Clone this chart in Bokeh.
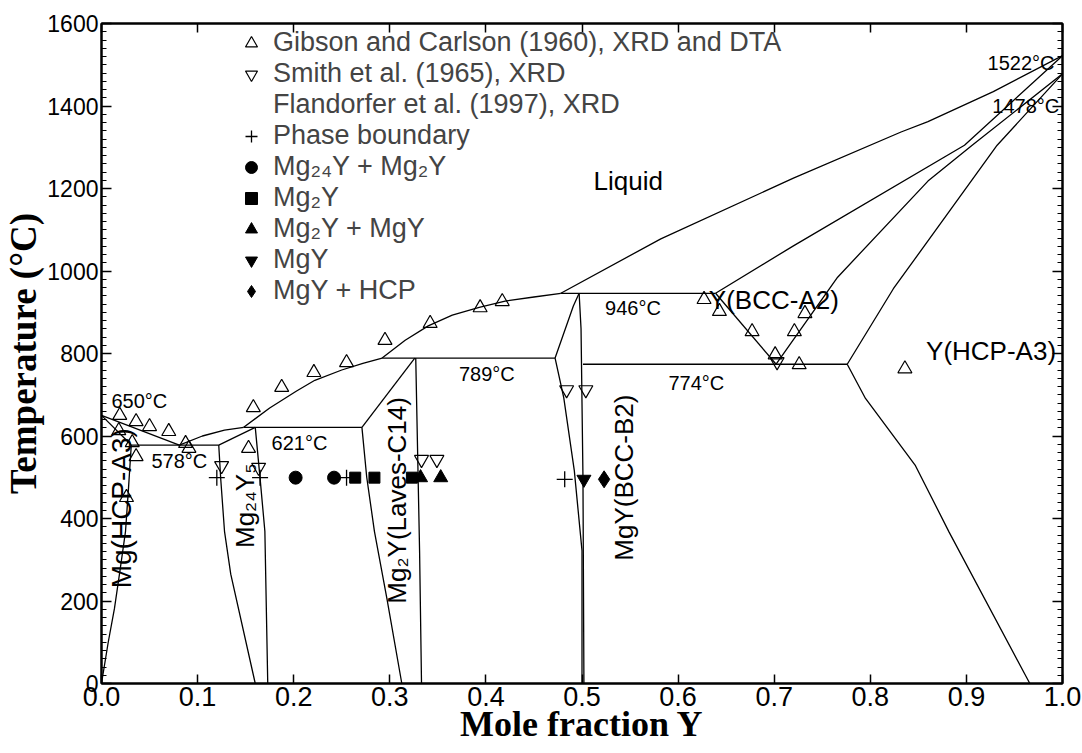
import numpy as np
from bokeh.plotting import figure
from bokeh.models import (FixedTicker, NumeralTickFormatter, LinearAxis, Range1d,
                          Label, Legend, LegendItem, CustomJSTickFormatter)
from bokeh.embed import file_html
from bokeh.resources import INLINE

# ---------------- phase boundaries (mole fraction Y, temperature degC) ----------------
liq_mg_x = [0.0, 0.081]
liq_mg_t = [650, 578]
sol_mg_x = [0.0, 0.031]
sol_mg_t = [650, 578]
solv_mg_x = [0.031, 0.028, 0.025, 0.019, 0.0135, 0.007, 0.0]
solv_mg_t = [578, 470, 369, 270, 182, 100, 0]
iso578_x = [0.031, 0.122]
iso578_t = [578, 578]
liq2_x = [0.081, 0.105, 0.128, 0.148]
liq2_t = [578, 600, 614, 621]
m24top_x = [0.122, 0.160]
m24top_t = [578, 621]
iso621_x = [0.148, 0.271]
iso621_t = [621, 621]
m24left_x = [0.122, 0.124, 0.128, 0.1345, 0.160]
m24left_t = [578, 498, 369, 265, 0]
m24right_x = [0.160, 0.165, 0.170, 0.173]
m24right_t = [621, 498, 369, 0]
liq3_x = [0.148, 0.175, 0.203, 0.222, 0.250, 0.272, 0.292]
liq3_t = [621, 668, 709, 735, 760, 776, 789]
m2up_x = [0.271, 0.326]
m2up_t = [621, 789]
m2low_x = [0.271, 0.276, 0.284, 0.297, 0.3125]
m2low_t = [621, 500, 369, 206, 0]
m2right_x = [0.327, 0.331, 0.333]
m2right_t = [789, 320, 0]
iso789_x = [0.292, 0.472]
iso789_t = [789, 789]
liq4_x = [0.292, 0.316, 0.340, 0.365, 0.393, 0.420, 0.450, 0.478]
liq4_t = [789, 832, 867, 893, 912, 927, 937, 946]
mgyup_x = [0.472, 0.491, 0.497]
mgyup_t = [789, 915, 946]
mgylow_x = [0.472, 0.481, 0.492, 0.500, 0.500]
mgylow_t = [789, 693, 516, 322, 0]
mgyright_x = [0.497, 0.499, 0.501, 0.502]
mgyright_t = [946, 860, 500, 0]
iso946_x = [0.478, 0.639]
iso946_t = [946, 946]
iso774_x = [0.501, 0.776]
iso774_t = [774, 774]
bccleft_x = [0.639, 0.702]
bccleft_t = [946, 774]
bccright_x = [0.702, 0.766, 0.860, 0.906, 1.0]
bccright_t = [774, 985, 1218, 1305, 1478]
hcpleft_x = [0.776, 0.824, 0.932, 1.0]
hcpleft_t = [774, 957, 1305, 1478]
hcpsolv_x = [0.776, 0.795, 0.847, 0.882, 0.966]
hcpsolv_t = [774, 691, 528, 367, 0]
liq5_x = [0.478, 0.582, 0.720, 0.832, 0.860, 0.928, 1.0]
liq5_t = [946, 1078, 1225, 1337, 1362, 1435, 1522]
bccsol_x = [0.639, 0.720, 0.898, 1.0]
bccsol_t = [946, 1061, 1305, 1522]

boundaries = [
    (liq_mg_x, liq_mg_t), (sol_mg_x, sol_mg_t), (solv_mg_x, solv_mg_t),
    (iso578_x, iso578_t), (liq2_x, liq2_t), (m24top_x, m24top_t),
    (iso621_x, iso621_t), (m24left_x, m24left_t), (m24right_x, m24right_t),
    (liq3_x, liq3_t), (m2up_x, m2up_t), (m2low_x, m2low_t), (m2right_x, m2right_t),
    (iso789_x, iso789_t), (liq4_x, liq4_t), (mgyup_x, mgyup_t), (mgylow_x, mgylow_t),
    (mgyright_x, mgyright_t), (iso946_x, iso946_t), (iso774_x, iso774_t),
    (bccleft_x, bccleft_t), (bccright_x, bccright_t), (hcpleft_x, hcpleft_t),
    (hcpsolv_x, hcpsolv_t), (liq5_x, liq5_t), (bccsol_x, bccsol_t),
]

# ---------------- experimental data ----------------
gibson_x = [0.019, 0.036, 0.050, 0.070, 0.018, 0.032, 0.036, 0.0875, 0.091, 0.026,
            0.153, 0.158, 0.1875, 0.221, 0.255, 0.295, 0.342, 0.394, 0.417,
            0.627, 0.643, 0.677, 0.701, 0.721, 0.732, 0.726, 0.836]
gibson_t = [650, 635, 623, 611, 613, 584, 550, 582, 570, 451,
            570, 669, 718, 754, 778, 832, 873, 911, 926,
            931, 902, 853, 797, 853, 897, 773, 763]
smith_x = [0.125, 0.1635, 0.333, 0.349, 0.484, 0.504, 0.703]
smith_t = [528, 524, 543, 543, 712, 712, 780]
pb_x = [0.120, 0.165, 0.255, 0.482]
pb_t = [499, 499, 499, 495]
c1_x = [0.202, 0.242]
c1_t = [499, 499]
sq_x = [0.264, 0.284, 0.323]
sq_t = [499, 499, 499]
tri_x = [0.332, 0.353]
tri_t = [499, 499]
itri_x = [0.502]
itri_t = [495]
dia_x = [0.523]
dia_t = [495]

legend_labels = ["Gibson and Carlson (1960), XRD and DTA", "Smith et al. (1965), XRD",
                 "Flandorfer et al. (1997), XRD", "Phase boundary",
                 "Mg\u2082\u2084Y + Mg\u2082Y", "Mg\u2082Y", "Mg\u2082Y + MgY", "MgY", "MgY + HCP"]

# ---------------- annotations ----------------
iso_labels = ["650\u00b0C", "578\u00b0C", "621\u00b0C", "789\u00b0C", "946\u00b0C", "774\u00b0C",
              "1522\u00b0C", "1478\u00b0C"]
iso_lx = [0.0104, 0.052, 0.177, 0.372, 0.524, 0.59, 0.922, 0.927]
iso_ly = [686, 540, 584, 751, 910, 728, 1505, 1400]

phase_labels = ["Liquid", "Y(BCC-A2)", "Y(HCP-A3)"]
phase_lx = [0.512, 0.632, 0.858]
phase_ly = [1218, 930, 805]

vphase_labels = ["Mg(HCP-A3)", "Mg\u2082\u2084Y\u2085", "Mg\u2082Y(Laves-C14)", "MgY(BCC-B2)"]
vphase_lx = [0.0208, 0.149, 0.307, 0.544]
vphase_ly = [425, 431, 444, 499]
vphase_fs = ["28px", "26px", "26px", "26px"]

FONT = "Liberation Sans"
NARROW = "Liberation Sans Narrow, Liberation Sans"
SERIF = "Liberation Serif"

p = figure(width=1082, height=753, output_backend="svg", toolbar_location=None,
           x_range=Range1d(0, 1), y_range=Range1d(0, 1600),
           min_border_left=100, min_border_right=20, min_border_top=23, min_border_bottom=70,
           background_fill_color="white", border_fill_color="white")
p.grid.visible = False
p.outline_line_color = "black"
p.outline_line_width = 2
bottom = p.below[0]
left = p.left[0]

for bx, bt in boundaries:
    p.line(bx, bt, line_color="black", line_width=1.3)

r_gib = p.scatter(gibson_x, gibson_t, marker="triangle", size=14, fill_color=None,
                  line_color="black", line_width=1.2)
r_smi = p.scatter(smith_x, smith_t, marker="inverted_triangle", size=14, fill_color=None,
                  line_color="black", line_width=1.2)
r_fla = p.scatter([], [], marker="circle", size=1, fill_alpha=0, line_alpha=0)
r_pb = p.scatter(pb_x, pb_t, marker="cross", size=16, line_color="black", line_width=1.3)
r_c1 = p.scatter(c1_x, c1_t, marker="circle", size=13, fill_color="black", line_color="black")
r_sq = p.scatter(sq_x, sq_t, marker="square", size=11, fill_color="black", line_color="black")
r_tr = p.scatter(tri_x, tri_t, marker="triangle", size=14, fill_color="black", line_color="black")
r_it = p.scatter(itri_x, itri_t, marker="inverted_triangle", size=14, fill_color="black", line_color="black")
r_di = p.scatter(dia_x, dia_t, marker="diamond", size=17, fill_color="black", line_color="black")

items = [LegendItem(label=l, renderers=[r]) for l, r in
         zip(legend_labels, [r_gib, r_smi, r_fla, r_pb, r_c1, r_sq, r_tr, r_it, r_di])]
legend = Legend(items=items, location=(135, 377), padding=0, margin=0, spacing=0,
                glyph_width=30, glyph_height=30, label_height=30, label_standoff=7,
                label_text_font=FONT, label_text_font_size="27px",
                background_fill_alpha=0, border_line_color=None)
p.add_layout(legend)

for t, x, y in zip(iso_labels, iso_lx, iso_ly):
    p.add_layout(Label(x=x, y=y, text=t, text_font=FONT, text_font_size="20px",
                       text_baseline="middle", text_align="left", text_color="black"))
for t, x, y in zip(phase_labels, phase_lx, phase_ly):
    p.add_layout(Label(x=x, y=y, text=t, text_font=FONT, text_font_size="26px",
                       text_baseline="middle", text_align="left", text_color="black"))
for t, x, y, fs in zip(vphase_labels, vphase_lx, vphase_ly, vphase_fs):
    p.add_layout(Label(x=x, y=y, text=t, text_font=FONT, text_font_size=fs,
                       text_baseline="middle", text_align="center", angle=np.pi / 2,
                       text_color="black"))

# axes
xt = FixedTicker(ticks=[round(0.1 * i, 1) for i in range(11)])
yt = FixedTicker(ticks=list(range(0, 1601, 200)), minor_ticks=list(range(0, 1601, 20)))
blank = CustomJSTickFormatter(code="return ''")

bottom.ticker = xt
bottom.formatter = NumeralTickFormatter(format="0.0")
left.ticker = yt
bottom.axis_label = "Mole fraction Y"
left.axis_label = "Temperature (\u00b0C)"

top = LinearAxis(ticker=xt, formatter=blank, major_label_standoff=0)
right = LinearAxis(ticker=yt, formatter=blank, major_label_standoff=0)
p.add_layout(top, "above")
p.add_layout(right, "right")

for ax in [bottom, top]:
    ax.major_tick_in = 9
    ax.major_tick_out = 0
    ax.minor_tick_line_color = None
for ax in [left, right]:
    ax.major_tick_in = 10
    ax.major_tick_out = 0
    ax.minor_tick_in = 5
    ax.minor_tick_out = 0
    ax.minor_tick_line_color = "black"
    ax.minor_tick_line_width = 1
for ax in [bottom, top, left, right]:
    ax.axis_line_color = "black"
    ax.axis_line_width = 2
    ax.major_tick_line_color = "black"
    ax.major_tick_line_width = 1.5

bottom.major_label_text_font = NARROW
bottom.major_label_text_font_size = "27px"
bottom.major_label_standoff = 3
left.major_label_text_font = FONT
left.major_label_text_font_size = "23px"
left.major_label_standoff = 3
for ax in [bottom, left]:
    ax.major_label_text_color = "black"
    ax.axis_label_text_font = SERIF
    ax.axis_label_text_font_style = "bold"
    ax.axis_label_text_color = "black"
bottom.axis_label_standoff = -5
left.axis_label_standoff = 0
bottom.axis_label_text_font_size = "36px"
left.axis_label_text_font_size = "37px"

open("out.html", "w").write(file_html(p, INLINE))
